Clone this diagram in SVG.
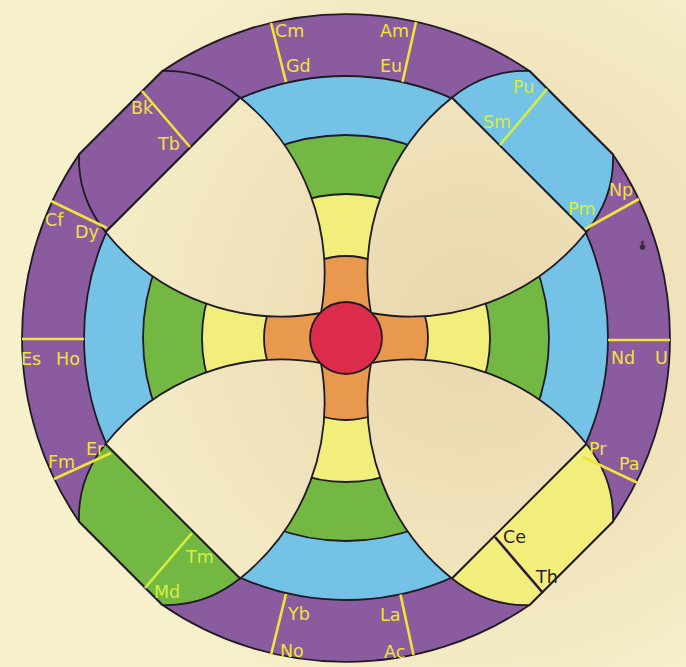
<svg xmlns="http://www.w3.org/2000/svg" width="686" height="667" viewBox="0 0 686 667">
<defs>
<style>
.edge{stroke:#1f1a26;stroke-width:1.8;stroke-linejoin:round}
.lbl{font-family:"DejaVu Sans","Liberation Sans",sans-serif;font-size:17.5px;fill:#f2e23a}
.lbl2{font-family:"DejaVu Sans","Liberation Sans",sans-serif;font-size:17.5px;fill:#d6ee3c}
.lbl3{font-family:"DejaVu Sans","Liberation Sans",sans-serif;font-size:17.5px;fill:#2b1a3c}
.div{stroke:#f2e23a;stroke-width:2.6;fill:none}
.div2{stroke:#d6ee3c;stroke-width:2.6;fill:none}
</style>
<radialGradient id="bg" gradientUnits="userSpaceOnUse" cx="470" cy="320" r="420">
<stop offset="0" stop-color="#e9d6ad"/>
<stop offset="0.55" stop-color="#f0e3bb"/>
<stop offset="1" stop-color="#f6f0cb"/>
</radialGradient>
<path id="petal" d="M -25,-25 A 225 225 0 0 0 -106,-240.5 L -240.5,-106 A 225 225 0 0 0 -25,-25 Z"/>
<path id="band" d="M -106,-240.5 Q -141.2,-268.6 -183.5,-267 L -267,-183.5 Q -268.6,-141.2 -240.5,-106 Z"/>
<mask id="cut" maskUnits="userSpaceOnUse" x="-400" y="-400" width="800" height="800">
<rect x="-400" y="-400" width="800" height="800" fill="#fff"/>
<use href="#petal" fill="#000"/>
<use href="#petal" fill="#000" transform="rotate(90)"/>
<use href="#petal" fill="#000" transform="rotate(180)"/>
<use href="#petal" fill="#000" transform="rotate(270)"/>
</mask>
</defs>
<rect width="686" height="667" fill="url(#bg)"/>
<g transform="translate(346,338)">
<g id="rings" mask="url(#cut)">
<path id="outer" class="edge" fill="#8a5c9f" d="M -183.5,-267 A 324 324 0 0 1 183.5,-267 L 267,-183.5 A 324 324 0 0 1 267,183.5 L 183.5,267 A 324 324 0 0 1 -183.5,267 L -267,183.5 A 324 324 0 0 1 -267,-183.5 Z"/>
<circle id="ring-blue" class="edge" r="262" fill="#74c2e6"/>
<circle id="ring-green" class="edge" r="203" fill="#72b843"/>
<circle id="ring-yellow" class="edge" r="144" fill="#f2ee7c"/>
<circle id="ring-orange" class="edge" r="82" fill="#e9994e"/>
</g>
<g id="petals" class="edge" fill="none">
<use href="#petal"/>
<use href="#petal" transform="rotate(90)"/>
<use href="#petal" transform="rotate(180)"/>
<use href="#petal" transform="rotate(270)"/>
</g>
<g id="bands" class="edge">
<use id="band-tl" href="#band" fill="#8a5c9f"/>
<use id="band-tr" href="#band" fill="#74c2e6" transform="rotate(90)"/>
<use id="band-br" href="#band" fill="#f2ee7c" transform="rotate(180)"/>
<use id="band-bl" href="#band" fill="#72b843" transform="rotate(270)"/>
</g>
<circle id="core" class="edge" r="36" fill="#dd2b4b"/>
</g>
<g id="dividers">
<line class="div" x1="271" y1="23" x2="286" y2="82"/>
<line class="div" x1="416" y1="22" x2="402.5" y2="82"/>
<line class="div2" x1="547" y1="89" x2="500" y2="145"/>
<line class="div" x1="585" y1="229" x2="639" y2="199"/>
<line class="div" x1="608" y1="340" x2="670" y2="340"/>
<line class="div" x1="583" y1="457" x2="638" y2="483"/>
<line x1="495" y1="537" x2="543" y2="593" stroke="#2b1a3c" stroke-width="2.6"/>
<line class="div" x1="400.5" y1="594.5" x2="413.5" y2="655"/>
<line class="div" x1="286" y1="594" x2="271" y2="655"/>
<line class="div2" x1="192" y1="533" x2="145" y2="588"/>
<line class="div" x1="54" y1="479" x2="111" y2="453"/>
<line class="div" x1="22" y1="339" x2="84" y2="339"/>
<line class="div" x1="51" y1="201" x2="107" y2="228"/>
<line class="div" x1="142" y1="91" x2="190" y2="147"/>
</g>
<g id="mark" fill="#3a2840" stroke="#3a2840">
<circle cx="642.5" cy="247" r="2.8" stroke="none"/>
<line x1="642.5" y1="245" x2="642.5" y2="240.5" stroke-width="1.5"/>
<line x1="640.8" y1="242.5" x2="644.2" y2="242.5" stroke-width="1.1"/>
</g>
<g id="labels">
<text class="lbl" x="275" y="37">Cm</text>
<text class="lbl" x="286" y="72">Gd</text>
<text class="lbl" x="380" y="37">Am</text>
<text class="lbl" x="380" y="72">Eu</text>
<text class="lbl2" x="513" y="93">Pu</text>
<text class="lbl2" x="483" y="128">Sm</text>
<text class="lbl" x="609" y="196">Np</text>
<text class="lbl2" x="568" y="215">Pm</text>
<text class="lbl" x="611" y="364">Nd</text>
<text class="lbl" x="655" y="364">U</text>
<text class="lbl" x="589" y="455">Pr</text>
<text class="lbl" x="619" y="470">Pa</text>
<text class="lbl3" x="503" y="543">Ce</text>
<text class="lbl3" x="536" y="583">Th</text>
<text class="lbl" x="380" y="621">La</text>
<text class="lbl" x="384" y="658">Ac</text>
<text class="lbl" x="288" y="620">Yb</text>
<text class="lbl" x="280" y="657">No</text>
<text class="lbl2" x="186" y="563">Tm</text>
<text class="lbl2" x="154" y="598">Md</text>
<text class="lbl" x="86" y="455">Er</text>
<text class="lbl" x="48" y="468">Fm</text>
<text class="lbl" x="21" y="365">Es</text>
<text class="lbl" x="56" y="365">Ho</text>
<text class="lbl" x="45" y="226">Cf</text>
<text class="lbl" x="75" y="238">Dy</text>
<text class="lbl" x="131" y="114">Bk</text>
<text class="lbl" x="158" y="150">Tb</text>
</g>
</svg>
